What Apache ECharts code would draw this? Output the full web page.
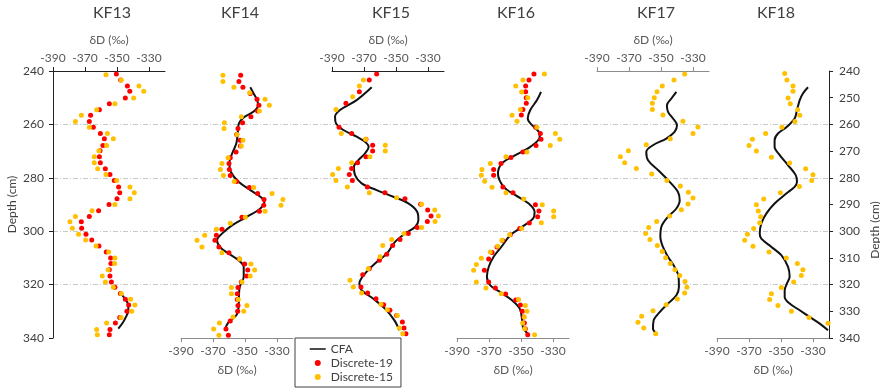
<!DOCTYPE html>
<html>
<head>
<meta charset="utf-8">
<script src="https://cdn.jsdelivr.net/npm/echarts@6/dist/echarts.min.js"></script>
<style>
  html, body { margin: 0; padding: 0; background: #fff; }
  #chart { width: 880px; height: 390px; }
</style>
</head>
<body>
<div id="chart"></div>
<script>
// [dD (permil), depth (cm)]
const KF13_CFA = [[-347.7,323.4],[-345,325.3],[-343.1,327.4],[-342.9,329.6],[-344.4,332.1],[-346.5,334.4],[-349.2,336.5]];
const KF13_D19 = [[-350.4,241.1],[-347.7,243.4],[-343.5,245.6],[-342,247.6],[-344.8,250.1],[-354.8,252.3],[-361,254.5],[-366.5,256.6],[-367.3,258.9],[-364.8,261.1],[-360.4,263.4],[-357.9,265.4],[-358.8,267.9],[-360.6,269.9],[-361,272.1],[-360.4,274.4],[-357.3,276.6],[-354.4,278.8],[-351.7,281],[-349,283.4],[-348.3,285.6],[-350,287.8],[-355,290],[-361.5,292.3],[-367.3,294.5],[-372.3,296.5],[-372.1,298.9],[-369.4,301.1],[-365.8,303.3],[-361.3,305.5],[-356.7,307.8],[-354,310],[-353.8,312.1],[-354.8,314.4],[-354.4,316.8],[-353.5,319],[-351.3,321],[-347.9,323.3],[-344.8,325.5],[-342.7,327.6],[-343.8,330],[-348.3,332.3],[-351,334.4],[-354.4,336.8],[-354.8,338.8]];
const KF13_D15 = [[-356.9,241.4],[-347.3,243.4],[-336.3,245.6],[-333.3,247.6],[-339.6,250.1],[-351.3,252.3],[-362.7,254.5],[-372.3,256.6],[-376,258.9],[-367.3,261.1],[-356,263.4],[-352.3,265.4],[-356.5,267.9],[-361.3,269.9],[-364.2,272.1],[-364.2,274.4],[-362.1,276.6],[-356.9,278.8],[-350.2,281],[-341.9,283.4],[-339.2,285.6],[-341.9,287.8],[-351.3,290],[-365.6,292.3],[-376,294.5],[-379.4,296.5],[-377.9,298.9],[-374,301.1],[-369.6,303.3],[-363.1,305.5],[-355.2,307.8],[-351.3,310],[-351.5,312.1],[-355.6,314.4],[-359.2,316.8],[-357.3,319],[-352.3,321],[-347.3,323.3],[-341.5,325.5],[-338.8,327.6],[-340.8,330],[-347.5,332.3],[-356.5,334.4],[-362.7,336.8],[-362.3,338.8]];

const KF14_CFA = [[-346.7,246.1],[-344.6,248.4],[-342.3,251],[-341.9,252.8],[-344.6,255.2],[-350.8,257.4],[-353.8,259.6],[-354.6,263.4],[-355.4,267.1],[-358.1,271],[-359.8,274.6],[-358.8,277.8],[-354,281.5],[-346.7,284.6],[-340.4,287.1],[-337.9,289],[-340.4,291.5],[-348.8,294.6],[-358.1,297.8],[-364.4,300.9],[-367.5,303.4],[-365.4,306.1],[-360.2,308.4],[-354,310.9],[-350.8,313.4],[-350.8,317.1],[-353.3,320.9],[-353.8,324.6],[-354,328.4],[-355.4,331.5],[-360.2,334],[-362.7,337.1]];
const KF14_D19 = [[-352.7,241.6],[-353.8,243.9],[-351.3,246.1],[-346.7,248.4],[-342.5,250.6],[-341.3,252.8],[-342.1,255],[-346.3,257.1],[-351.5,259.4],[-354.4,261.5],[-355.2,263.8],[-353.1,265.9],[-352.9,268.1],[-355.6,270.3],[-359.2,272.5],[-360,274.6],[-359.8,276.9],[-359.2,279.1],[-355.2,281.4],[-347.3,283.6],[-342.1,285.9],[-338.1,288.1],[-338.3,290.3],[-341,292.5],[-351.9,294.8],[-364.4,299.3],[-367.9,301.5],[-368.8,303.4],[-366.3,305.9],[-360,308.1],[-353.5,310.4],[-350.2,312.3],[-348.3,314.5],[-349,316.8],[-352.3,319],[-354.4,321.1],[-354.8,323.4],[-354.8,325.6],[-354.4,327.8],[-354.6,330],[-359.2,333.6],[-361.9,336.6],[-360.4,339]];
const KF14_D15 = [[-363.8,241.6],[-363.8,243.9],[-356.9,246.1],[-347.1,248.1],[-337.5,250.6],[-334.8,252.8],[-341,255],[-352.3,257.1],[-362.9,259.4],[-363.1,261.5],[-355,263.8],[-351.3,265.9],[-352.3,268.1],[-360.6,272.5],[-364.4,274.6],[-365.4,276.9],[-363.5,279.1],[-356.7,281.4],[-344.6,283.6],[-333.1,285.9],[-326.3,288.1],[-327.5,290.3],[-337.5,292.5],[-349.8,294.8],[-359.2,297],[-367.9,299.3],[-375.2,301.5],[-380,303.4],[-376.9,305.9],[-364.4,308.1],[-353.3,310.4],[-346.3,312.3],[-344,314.5],[-346.7,316.8],[-351.9,319],[-358.5,321.1],[-358.5,323.4],[-354.2,325.6],[-348.8,327.8],[-350.8,330],[-357.5,332.1],[-366,334.4],[-369.6,336.6],[-366.3,339]];

const KF15_CFA = [[-365.2,246.1],[-374.6,250.9],[-385,254.6],[-388.1,257.1],[-387.5,259.6],[-382.9,262.1],[-374.6,264.6],[-369.4,266.5],[-367.1,268.4],[-369.4,270.9],[-373.5,273.4],[-376.3,275.9],[-375.6,279],[-371.5,282.1],[-362.1,284.6],[-351.7,287.1],[-342.3,289.6],[-336.7,292.8],[-336,295.9],[-338.1,298.4],[-344.4,300.9],[-350.6,304],[-355.8,308.4],[-363.1,312.1],[-369.4,315.9],[-372.9,319.6],[-371.5,322.1],[-364.2,325.3],[-356.9,329],[-351,333.4],[-347.9,337.1]];
const KF15_D19 = [[-362.1,241.1],[-366.7,243.4],[-372.9,247.8],[-381.3,252.1],[-385.6,261.1],[-377.7,263.4],[-368.8,265.6],[-364.6,267.8],[-364.6,270],[-368.8,272.1],[-374,274.4],[-377.7,276.5],[-379.2,278.8],[-377.3,281],[-367.9,283.4],[-356.9,285.6],[-344.4,287.8],[-334.6,289.9],[-330.2,292.1],[-328.1,294.3],[-330.4,296.4],[-336.7,298.6],[-342.3,300.9],[-347.5,303.1],[-352.1,305.4],[-355.8,308.6],[-360.4,310.9],[-366.7,314.1],[-370.8,316.3],[-371.9,320.9],[-367.7,323.1],[-362.5,325.3],[-357.7,327.5],[-353.8,329.6],[-349.6,331.6],[-346,334],[-345,336.3],[-343.8,338.4]];
const KF15_D15 = [[-370.4,243.4],[-372.9,245.6],[-377.1,249.6],[-387.5,254.4],[-384.2,263.4],[-369,265.6],[-356.7,267.8],[-356.7,270],[-366.3,272.1],[-377.7,274.4],[-386,276.5],[-389.6,278.8],[-387.5,281],[-380.4,283.4],[-366.7,285.6],[-349.6,287.5],[-334,289.9],[-325.8,292.1],[-323.5,294.3],[-325.6,296.4],[-334,298.6],[-345,300.9],[-352.7,303.1],[-358.3,305.4],[-360,309.6],[-367.3,314.1],[-378.8,318.4],[-376.7,320.9],[-371.5,323.1],[-359.4,327.4],[-355.4,329.4],[-349.2,331.6],[-347.9,336.3],[-345.8,338.4]];

const KF16_CFA = [[-337.5,247.8],[-340,250.9],[-344.2,254.6],[-345.8,257.8],[-343.1,260.3],[-338.8,262.8],[-338.3,264.6],[-344.2,268.4],[-353.5,271.5],[-361.9,274.6],[-364.4,278.4],[-360.8,283.4],[-353.5,286.5],[-345.2,289.6],[-341.5,292.8],[-342.5,295.3],[-349.4,298.4],[-356.7,301.5],[-362.3,305.9],[-367.1,309.6],[-370.2,313.4],[-371.3,317.1],[-369.2,320.3],[-362.9,322.8],[-355.6,325.9],[-350.8,329],[-349.4,332.8],[-348.8,335.9],[-345.8,338.4]];
const KF16_D19 = [[-341.9,241.1],[-345,243.4],[-347.1,245.6],[-347.1,247.8],[-346.7,250],[-346.7,252.1],[-348.8,254.4],[-349.8,256.5],[-340.8,261.1],[-337.9,263.4],[-337.5,265.6],[-340.6,267.9],[-348.8,270.3],[-356.3,272.4],[-362.5,274.6],[-367.1,276.9],[-367.1,279],[-361.3,283.4],[-355,285.6],[-341,290.1],[-338.8,292.4],[-339.6,294.6],[-344.8,296.9],[-350.8,299],[-356.7,301.3],[-361.5,303.5],[-365,305.9],[-368.1,308],[-370.2,310.4],[-372.9,314.6],[-370.2,319],[-366,321.3],[-359.6,323.5],[-353.3,325.8],[-350.4,327.6],[-349.2,330],[-348.3,332.1],[-347.9,334.4],[-347.3,336.5],[-345.8,338.8]];
const KF16_D15 = [[-335.4,241.1],[-348.8,243.4],[-353.3,245.6],[-349.6,247.9],[-345.8,250],[-350.4,254.4],[-355.6,256.6],[-352.5,258.8],[-340,261.1],[-328.5,263.4],[-325.8,265.6],[-331.7,267.9],[-346.3,270.3],[-359.4,272.1],[-369.2,274.6],[-374.4,276.9],[-374.8,279],[-372.7,281.3],[-368.1,283.5],[-359.4,285.6],[-348.3,287.9],[-336.7,290.1],[-329.6,292.4],[-329.6,294.6],[-337.3,296.8],[-349.6,299],[-357.1,301.3],[-361.9,303.4],[-364.6,305.6],[-369.2,307.8],[-374.8,310.1],[-377.9,312.5],[-379.6,314.6],[-377.9,319],[-371.9,321.3],[-362.3,323.4],[-351.5,325.6],[-347.3,327.8],[-346.3,330],[-347.9,332.1],[-349,334.4],[-347.7,336.5],[-341.5,338.8]];

const KF17_CFA = [[-340.4,247.8],[-343.5,250.3],[-346.3,252.8],[-345.6,255.3],[-342.5,257.8],[-340,260.3],[-341.5,262.8],[-346.7,265.3],[-355,267.8],[-359.2,270.3],[-358.1,273.4],[-351.9,277.1],[-344.6,281.5],[-339.4,285.3],[-338.3,288.4],[-340.4,291.5],[-345.6,294.6],[-349.8,298.4],[-350.4,302.1],[-348.8,305.9],[-345.6,309.6],[-341.5,313.4],[-339,317.1],[-338.8,320.9],[-340.4,324],[-345.6,327.1],[-350.8,330.3],[-354.6,333.4],[-355,336.5],[-352.5,338.4]];
const KF17_D15 = [[-335.2,241.1],[-341.9,243.4],[-349.2,245.6],[-352.5,247.8],[-354.2,250],[-355.4,252.1],[-355.4,254.4],[-348.8,256.5],[-336.3,258.8],[-326.9,261],[-330,263.4],[-344.2,265.4],[-359.2,267.6],[-370.4,269.9],[-375.4,272.1],[-372.7,274.4],[-365.4,276.5],[-355.8,278.6],[-346.3,281],[-337.9,283.1],[-332.9,285.4],[-330,287.6],[-333.1,289.8],[-337.3,292],[-344.6,294.3],[-352.7,296.4],[-357.7,298.6],[-359.6,300.9],[-356.9,303.1],[-352.3,305.4],[-349.2,307.6],[-347.1,309.9],[-344.2,312.1],[-341.3,314.4],[-338.3,316.6],[-335,318.8],[-333.8,321],[-335.2,323.1],[-339.8,325.4],[-346.7,327.5],[-355,329.8],[-362.1,331.9],[-364.4,334.1],[-360.8,336.3],[-353.3,338.4]];

const KF18_CFA = [[-333.1,246.1],[-336.3,248.4],[-338.3,250.9],[-340,254.6],[-341.5,257.8],[-346.3,260.9],[-351.9,263.4],[-354,265.9],[-354,268.4],[-350.8,271.5],[-345.6,275.3],[-340.8,279],[-340,281.5],[-341.5,283.4],[-346.7,285.9],[-354,289.6],[-359.2,293.4],[-362.3,297.1],[-363.3,300.9],[-362.3,302.8],[-356,305.9],[-349.8,309],[-345.6,313.4],[-344.6,317.1],[-346.3,319.6],[-347.7,322.1],[-347.7,324.6],[-344.6,327.1],[-338.3,329.6],[-332.1,332.1],[-325.8,334.6],[-320.6,337.1]];
const KF18_D15 = [[-347.7,240.9],[-346.3,243.4],[-342.5,245.6],[-342.5,247.6],[-345.6,250.1],[-344.2,252.3],[-339.6,254.5],[-338.3,256.6],[-341.3,258.9],[-349.4,261.1],[-359.6,263.4],[-367.9,265.6],[-370,267.9],[-365.4,270],[-356,272.3],[-344.6,274.5],[-334.6,276.6],[-330,278.9],[-330.8,281],[-338.5,283.3],[-350.4,285.6],[-360.8,287.9],[-365.4,290.1],[-364.2,292.4],[-362.7,294.6],[-363.3,296.8],[-367.1,299],[-371,301.1],[-372.7,303.4],[-367.5,305.6],[-357.5,307.8],[-346.7,310],[-339.8,312.1],[-336.3,314.4],[-337.3,316.6],[-342.1,319],[-349.8,321.1],[-356,323.4],[-357.1,325.6],[-351.9,327.8],[-343.5,330],[-332.5,332.3],[-320.6,334.5]];

const panelNames = ['KF13', 'KF14', 'KF15', 'KF16', 'KF17', 'KF18'];
const cfaData = [KF13_CFA, KF14_CFA, KF15_CFA, KF16_CFA, KF17_CFA, KF18_CFA];
const d19Data = [KF13_D19, KF14_D19, KF15_D19, KF16_D19, null, null];
const d15Data = [KF13_D15, KF14_D15, KF15_D15, KF16_D15, KF17_D15, KF18_D15];
const xTicks = [-390, -370, -350, -330];

const panelLeft = [53, 181, 332, 457, 597, 717];
const panelW = 112, gridTop = 71, gridH = 267;
const font = 'Lato, "Open Sans", sans-serif';

const grids = [{left: 53, top: gridTop, width: 829 - 53, height: gridH}];
const xAxes = [{gridIndex: 0, type: 'value', show: false, min: 0, max: 1}];
const yAxes = [{
    gridIndex: 0, type: 'value', inverse: true, min: 240, max: 340, interval: 20,
    axisLine: {show: false}, axisTick: {show: false}, axisLabel: {show: false},
    splitLine: {show: true, showMinLine: false, showMaxLine: false,
        lineStyle: {color: '#c8c8c8', type: [5, 2, 1, 2], width: 1}}
}];
const titles = [];
const series = [];

panelNames.forEach((name, i) => {
    const g = i + 1;
    const top = i % 2 === 0;
    const axisColor = (i === 0 || i === 2) ? '#222' : '#8c8c8c';
    grids.push({left: panelLeft[i], top: gridTop, width: panelW, height: gridH});
    titles.push({
        text: name, left: panelLeft[i] + panelW / 2 + 3, top: 5, textAlign: 'center', padding: 0,
        textStyle: {fontFamily: font, fontSize: 16, fontWeight: 'normal', color: '#404040'}
    });
    xAxes.push({
        gridIndex: g, type: 'value', position: top ? 'top' : 'bottom',
        min: -390, max: -320,
        name: 'δD (‰)', nameLocation: 'middle', nameGap: top ? 25 : 26,
        nameTextStyle: {fontFamily: font, fontSize: 12, color: '#595959'},
        axisLine: {show: true, lineStyle: {color: axisColor, width: 1}},
        axisTick: {show: true, length: 4, customValues: xTicks, lineStyle: {color: axisColor}},
        axisLabel: {customValues: xTicks, margin: 7, fontFamily: font, fontSize: 12, color: '#595959'},
        splitLine: {show: false}
    });
    const y = {
        gridIndex: g, type: 'value', inverse: true, min: 240, max: 340,
        splitLine: {show: false}, show: false
    };
    if (i === 0) {
        Object.assign(y, {
            show: true, position: 'left', interval: 20,
            name: 'Depth (cm)', nameLocation: 'middle', nameGap: 35,
            nameTextStyle: {fontFamily: font, fontSize: 12, color: '#404040'},
            axisLine: {show: true, lineStyle: {color: '#222'}},
            axisTick: {show: true, length: 4, lineStyle: {color: '#222'}},
            axisLabel: {margin: 9, fontFamily: font, fontSize: 12, color: '#404040'}
        });
    }
    if (i === 5) {
        Object.assign(y, {
            show: true, position: 'right', interval: 10,
            axisLine: {show: true, lineStyle: {color: '#222'}},
            axisTick: {show: true, length: 4, lineStyle: {color: '#222'}},
            axisLabel: {margin: 10, fontFamily: font, fontSize: 12, color: '#404040'}
        });
    }
    yAxes.push(y);

    series.push({
        name: 'CFA', type: 'line', xAxisIndex: g, yAxisIndex: g,
        data: cfaData[i], symbol: 'none', smooth: 0.35, z: 3,
        lineStyle: {color: '#111', width: 2}, itemStyle: {color: '#111'}
    });
    if (d19Data[i]) {
        series.push({
            name: 'Discrete-19', type: 'scatter', xAxisIndex: g, yAxisIndex: g,
            data: d19Data[i], symbolSize: 5, z: 4, itemStyle: {color: '#ff0000', opacity: 1}
        });
    }
    series.push({
        name: 'Discrete-15', type: 'scatter', xAxisIndex: g, yAxisIndex: g,
        data: d15Data[i], symbolSize: 5, z: 5, itemStyle: {color: '#ffc000', opacity: 1}
    });
});

const chart = echarts.init(document.getElementById('chart'), null, {renderer: 'canvas'});
chart.setOption({
    animation: false,
    backgroundColor: '#fff',
    title: titles,
    grid: grids,
    xAxis: xAxes,
    yAxis: yAxes,
    series: series,
    legend: {
        data: [
            {name: 'CFA', itemStyle: {opacity: 0}, lineStyle: {width: 1.5, color: '#111'}},
            'Discrete-19',
            'Discrete-15'
        ],
        orient: 'vertical', left: 295, top: 338,
        padding: [4, 8, 3, 14], itemGap: 0, itemWidth: 16, itemHeight: 6,
        backgroundColor: '#fff', borderColor: '#404040', borderWidth: 1, borderRadius: 0,
        textStyle: {fontFamily: font, fontSize: 12, color: '#404040', lineHeight: 14},
        selectedMode: false
    },
    graphic: [{
        type: 'text', x: 875, y: 230, rotation: Math.PI / 2,
        style: {text: 'Depth (cm)', fill: '#404040', font: '12px ' + font, align: 'center', verticalAlign: 'middle'}
    }]
});
</script>
</body>
</html>
